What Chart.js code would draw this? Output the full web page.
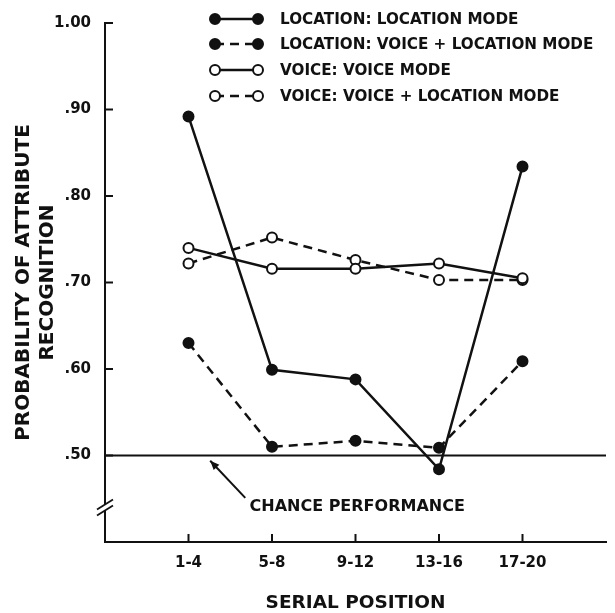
<!DOCTYPE html>
<html>
<head>
<meta charset="utf-8">
<script src="https://cdn.jsdelivr.net/npm/chart.js@4.4.0/dist/chart.umd.min.js"></script>
<style>
  html, body { margin: 0; padding: 0; background: #fff; }
</style>
</head>
<body>
<canvas id="lineChart" width="615" height="613"></canvas>
<script>
var categories = ["1-4", "5-8", "9-12", "13-16", "17-20"];

var locLocMode = [0.892, 0.599, 0.588, 0.484, 0.834];
var locVoiceLocMode = [0.630, 0.510, 0.517, 0.509, 0.609];
var voiceVoiceMode = [0.740, 0.716, 0.716, 0.722, 0.705];
var voiceVoiceLocMode = [0.722, 0.752, 0.726, 0.703, 0.703];

var chanceLevel = 0.5;

var yTickValues = [0.5, 0.6, 0.7, 0.8, 0.9, 1.0];
var yTickLabels = [".50", ".60", ".70", ".80", ".90", "1.00"];

var seriesNames = [
  "LOCATION: LOCATION MODE",
  "LOCATION: VOICE + LOCATION MODE",
  "VOICE: VOICE MODE",
  "VOICE: VOICE + LOCATION MODE"
];

const ink = "#111";
const font = "'DejaVu Sans', 'Liberation Sans', sans-serif";

const toPoints = (arr) => arr.map((v, i) => ({ x: i, y: v }));

const makeSeries = (name, values, filled, dashed) => ({
  label: name,
  data: toPoints(values),
  borderColor: ink,
  borderWidth: 2.5,
  borderDash: dashed ? [9, 6] : [],
  pointRadius: 5,
  pointBorderWidth: 2,
  pointBorderColor: ink,
  pointBackgroundColor: filled ? ink : "#fff",
  fill: false,
  tension: 0
});

// ticks inside, axis break, legend and chance note
const extras = {
  id: "extras",
  afterDraw(chart) {
    const ctx = chart.ctx;
    const xs = chart.scales.x, ys = chart.scales.y;
    const area = chart.chartArea;
    ctx.save();
    ctx.strokeStyle = ink;
    ctx.fillStyle = ink;
    ctx.lineWidth = 2;
    ctx.setLineDash([]);

    // inward tick marks
    yTickValues.forEach(v => {
      const py = ys.getPixelForValue(v);
      ctx.beginPath();
      ctx.moveTo(area.left, py);
      ctx.lineTo(area.left + 8, py);
      ctx.stroke();
    });
    categories.forEach((c, i) => {
      const px = xs.getPixelForValue(i);
      ctx.beginPath();
      ctx.moveTo(px, area.bottom);
      ctx.lineTo(px, area.bottom - 8);
      ctx.stroke();
    });

    // axis break
    const by = ys.getPixelForValue(0.44);
    ctx.fillStyle = "#fff";
    ctx.fillRect(area.left - 3, by - 3, 6, 6);
    ctx.fillStyle = ink;
    ctx.lineWidth = 1.8;
    [-3, 3].forEach(off => {
      ctx.beginPath();
      ctx.moveTo(area.left - 8, by + off + 5);
      ctx.lineTo(area.left + 8, by + off - 5);
      ctx.stroke();
    });

    // chance performance note
    const tx = xs.getPixelForValue(2.02), ty = ys.getPixelForValue(0.441);
    ctx.font = "bold 16px " + font;
    ctx.textAlign = "center";
    ctx.textBaseline = "middle";
    ctx.fillText("CHANCE PERFORMANCE", tx, ty);
    const ax0 = xs.getPixelForValue(0.68), ay0 = ys.getPixelForValue(0.451);
    const ax1 = xs.getPixelForValue(0.26), ay1 = ys.getPixelForValue(0.494);
    ctx.lineWidth = 2;
    ctx.beginPath();
    ctx.moveTo(ax0, ay0);
    ctx.lineTo(ax1, ay1);
    ctx.stroke();
    const ang = Math.atan2(ay1 - ay0, ax1 - ax0);
    ctx.beginPath();
    ctx.moveTo(ax1, ay1);
    ctx.lineTo(ax1 - 10 * Math.cos(ang - 0.4), ay1 - 10 * Math.sin(ang - 0.4));
    ctx.lineTo(ax1 - 10 * Math.cos(ang + 0.4), ay1 - 10 * Math.sin(ang + 0.4));
    ctx.closePath();
    ctx.fill();

    // legend
    const rows = [19, 44, 70, 96];
    const lx0 = 215, lx1 = 258;
    ctx.textAlign = "left";
    ctx.font = "bold 15.2px " + font;
    chart.data.datasets.slice(0, 4).forEach((ds, i) => {
      const y = rows[i];
      ctx.lineWidth = 2.5;
      ctx.setLineDash(ds.borderDash);
      ctx.beginPath();
      ctx.moveTo(lx0, y);
      ctx.lineTo(lx1, y);
      ctx.stroke();
      ctx.setLineDash([]);
      [lx0, lx1].forEach(px => {
        ctx.beginPath();
        ctx.arc(px, y, 5, 0, Math.PI * 2);
        ctx.fillStyle = ds.pointBackgroundColor;
        ctx.fill();
        ctx.lineWidth = 2;
        ctx.stroke();
      });
      ctx.fillStyle = ink;
      ctx.fillText(ds.label, 280, y + 1);
    });
    ctx.restore();
  }
};

new Chart(document.getElementById("lineChart").getContext("2d"), {
  type: "line",
  data: {
    datasets: [
      makeSeries(seriesNames[0], locLocMode, true, false),
      makeSeries(seriesNames[1], locVoiceLocMode, true, true),
      makeSeries(seriesNames[2], voiceVoiceMode, false, false),
      makeSeries(seriesNames[3], voiceVoiceLocMode, false, true),
      {
        label: "chance",
        data: [{ x: -1, y: chanceLevel }, { x: 5, y: chanceLevel }],
        borderColor: ink,
        borderWidth: 1.8,
        pointRadius: 0,
        order: 10
      }
    ]
  },
  options: {
    responsive: false,
    animation: false,
    layout: { padding: { top: 20, right: 9, bottom: 0, left: 0 } },
    plugins: {
      legend: { display: false },
      tooltip: { enabled: false }
    },
    scales: {
      x: {
        type: "linear",
        min: -1,
        max: 5,
        afterBuildTicks: (s) => { s.ticks = categories.map((c, i) => ({ value: i })); },
        afterFit: (s) => { s.height = 71; },
        grid: { display: false, drawTicks: false },
        border: { display: true, color: ink, width: 2 },
        ticks: {
          color: ink,
          padding: 12,
          maxRotation: 0,
          font: { family: font, size: 15, weight: "bold" },
          callback: (v, i) => categories[i]
        },
        title: {
          display: true,
          text: "SERIAL POSITION",
          color: ink,
          padding: { top: 22, bottom: 0 },
          font: { family: font, size: 18.5, weight: "bold", lineHeight: 1.1 }
        }
      },
      y: {
        min: 0.4,
        max: 1.0,
        afterBuildTicks: (s) => { s.ticks = yTickValues.map(v => ({ value: v })); },
        afterFit: (s) => { s.width = 105; },
        grid: { display: false, drawTicks: false },
        border: { display: true, color: ink, width: 2 },
        ticks: {
          color: ink,
          padding: 14,
          font: { family: font, size: 15, weight: "bold" },
          callback: (v, i) => yTickLabels[i]
        },
        title: {
          display: true,
          text: ["PROBABILITY OF ATTRIBUTE", "RECOGNITION"],
          color: ink,
          padding: { top: 12, bottom: 0 },
          font: { family: font, size: 20, weight: "bold", lineHeight: 1.2 }
        }
      }
    }
  },
  plugins: [extras]
});
</script>
</body>
</html>
